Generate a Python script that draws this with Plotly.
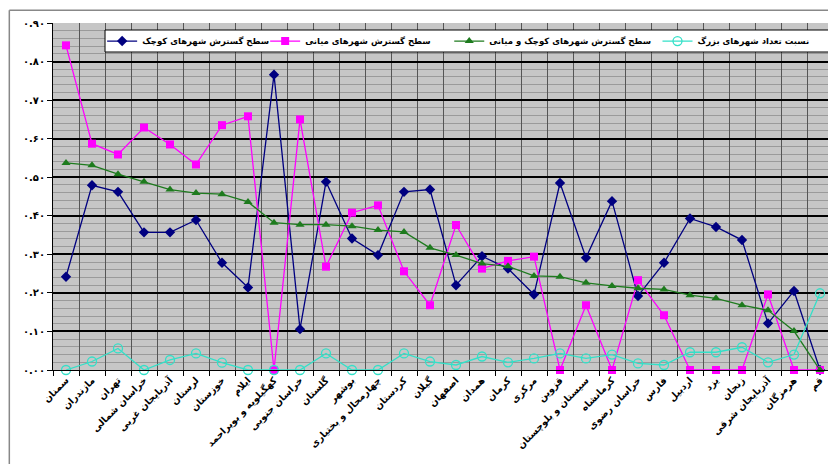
import plotly.graph_objects as go

provinces = [
    "سمنان", "مازندران", "تهران", "خراسان شمالی", "آذربایجان غربی", "لرستان",
    "خوزستان", "ایلام", "کهگیلویه و بویراحمد", "خراسان جنوبی", "گلستان", "بوشهر",
    "چهارمحال و بختیاری", "کردستان", "گیلان", "اصفهان", "همدان", "کرمان", "مرکزی",
    "قزوین", "سیستان و بلوچستان", "کرمانشاه", "خراسان رضوی", "فارس", "اردبیل",
    "یزد", "زنجان", "آذربایجان شرقی", "هرمزگان", "قم",
]

small_cities = [
    0.242, 0.479, 0.462, 0.357, 0.357, 0.389, 0.278, 0.214, 0.766, 0.106,
    0.488, 0.341, 0.298, 0.462, 0.468, 0.220, 0.295, 0.263, 0.196, 0.485,
    0.291, 0.438, 0.192, 0.278, 0.393, 0.371, 0.337, 0.121, 0.205, 0.000,
]
medium_cities = [
    0.842, 0.587, 0.559, 0.629, 0.585, 0.533, 0.635, 0.658, 0.000, 0.650,
    0.268, 0.408, 0.427, 0.256, 0.168, 0.376, 0.263, 0.283, 0.294, 0.000,
    0.168, 0.000, 0.233, 0.142, 0.000, 0.000, 0.000, 0.196, 0.000, 0.000,
]
small_medium = [
    0.537, 0.531, 0.508, 0.488, 0.468, 0.459, 0.456, 0.436, 0.382, 0.377,
    0.377, 0.373, 0.363, 0.358, 0.317, 0.298, 0.276, 0.269, 0.244, 0.242,
    0.226, 0.218, 0.212, 0.209, 0.194, 0.186, 0.168, 0.155, 0.101, 0.000,
]
big_ratio = [
    0.000, 0.022, 0.056, 0.000, 0.026, 0.043, 0.019, 0.000, 0.000, 0.000,
    0.043, 0.000, 0.000, 0.043, 0.022, 0.013, 0.035, 0.020, 0.030, 0.043,
    0.030, 0.040, 0.017, 0.013, 0.046, 0.046, 0.059, 0.020, 0.040, 0.199,
]

y_ticks = [i / 10 for i in range(10)]
FA_DIGITS = str.maketrans("0123456789", "۰۱۲۳۴۵۶۷۸۹")
y_labels = [f"{v:.2f}".translate(FA_DIGITS) for v in y_ticks]

FONT = "DejaVu Sans"

# name, values, colour, marker, legend id, legend left edge (paper x)
series = [
    ("سطح گسترش شهرهای کوچک", small_cities, "#000080",
     dict(symbol="diamond", size=8, color="#000080"), "legend", 0.063),
    ("سطح گسترش شهرهای میانی", medium_cities, "#ff00ff",
     dict(symbol="square", size=8, color="#ff00ff"), "legend2", 0.272),
    ("سطح گسترش شهرهای کوچک و میانی", small_medium, "#1e7b1e",
     dict(symbol="triangle-up", size=8, color="#1e7b1e"), "legend3", 0.508),
    ("نسبت تعداد شهرهای بزرگ", big_ratio, "#33e0c8",
     dict(symbol="circle-open", size=9, color="#33e0c8", line=dict(width=1.3)),
     "legend4", 0.775),
]

fig = go.Figure()
legends = {}
for name, vals, color, marker, leg, lx in series:
    fig.add_trace(go.Scatter(
        x=provinces, y=vals, name=name, mode="lines+markers",
        line=dict(color=color, width=1.3), marker=marker, cliponaxis=False,
        legend=leg, showlegend=True,
    ))
    legends[leg] = dict(
        orientation="h", x=lx, xanchor="left", y=0.948, yanchor="middle",
        bgcolor="rgba(0,0,0,0)", borderwidth=0, itemwidth=30,
        font=dict(family=FONT, size=8.5, color="black", weight="bold"),
    )

# page body adds an 8px margin, so the figure is 8px smaller than the window
fig.update_layout(
    width=828, height=456,
    margin=dict(l=45, r=3, t=15, b=94),
    paper_bgcolor="white",
    plot_bgcolor="#c6c6c6",
    showlegend=True,
    font=dict(family=FONT, size=11, color="black"),
    shapes=[
        # legend box
        dict(type="rect", xref="paper", yref="paper", x0=0.0667, x1=1.0,
             y0=0.9164, y1=0.9798, fillcolor="white", layer="above",
             line=dict(color="black", width=1)),
        # chart area frame
        dict(type="line", xref="paper", yref="paper", x0=-0.056, x1=1.01,
             y0=1.037, y1=1.037, line=dict(color="#888888", width=1.5)),
        dict(type="line", xref="paper", yref="paper", x0=-0.056, x1=-0.056,
             y0=1.037, y1=-0.3, line=dict(color="#888888", width=1.5)),
    ],
    **legends,
)

fig.update_xaxes(
    type="category", tickson="boundaries", tickangle=-45, automargin=False,
    showgrid=True, gridcolor="#555555", gridwidth=1,
    ticks="outside", ticklen=5, tickcolor="black",
    showline=True, linecolor="black", linewidth=1,
    tickfont=dict(family=FONT, size=9.5, color="black", weight="bold"),
    range=[-0.5, len(provinces) - 0.5],
)
fig.update_yaxes(
    range=[0, 0.9], tickvals=y_ticks + [0.9], ticktext=y_labels + ["۰.۹۰"],
    automargin=False,
    showgrid=True, gridcolor="black", gridwidth=2,
    minor=dict(dtick=0.02, showgrid=True, gridcolor="#9a9a9a", gridwidth=1),
    ticks="outside", ticklen=5, tickcolor="black",
    showline=True, linecolor="black", linewidth=1,
    zeroline=False,
    tickfont=dict(family=FONT, size=10, color="black", weight="bold"),
)

fig.write_html("out.html")
